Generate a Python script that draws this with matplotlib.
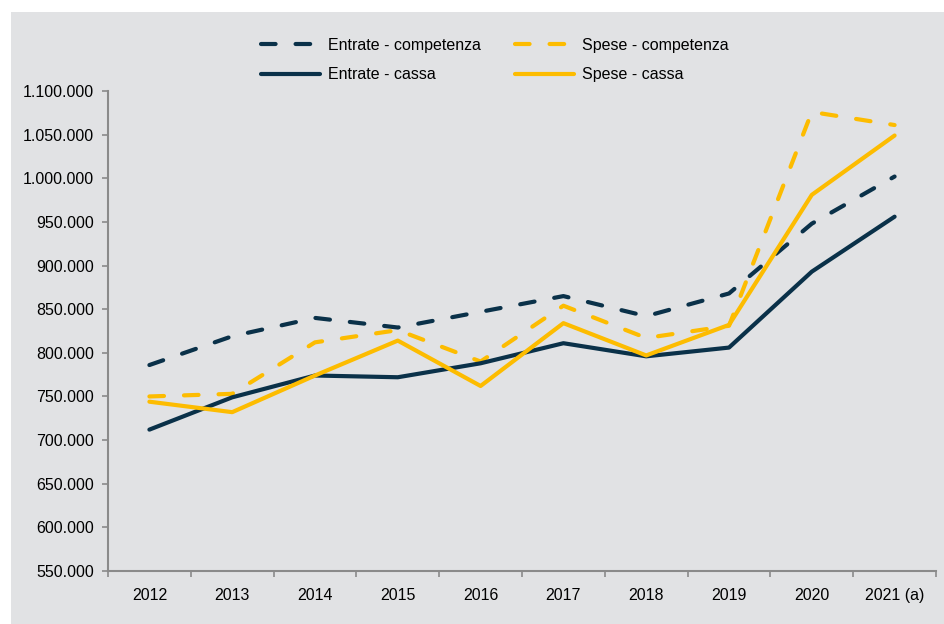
import matplotlib
matplotlib.use("Agg")
import matplotlib.pyplot as plt
from matplotlib.patches import Rectangle
from matplotlib.ticker import FuncFormatter, FixedLocator

plt.rcParams['font.family'] = ['Liberation Sans', 'DejaVu Sans']

years = ["2012", "2013", "2014", "2015", "2016", "2017", "2018", "2019", "2020", "2021 (a)"]
entrate_competenza = [786000, 819000, 840000, 829000, 847000, 865000, 842000, 868000, 948000, 1002000]
spese_competenza = [750000, 753000, 812000, 826000, 790000, 854000, 817000, 831000, 1076000, 1061000]
entrate_cassa = [712000, 749000, 774000, 772000, 788000, 811000, 796000, 806000, 893000, 956000]
spese_cassa = [744000, 732000, 774000, 814000, 762000, 834000, 797000, 832000, 981000, 1049000]

navy = '#0a3149'
yellow = '#fdbc00'
bg = '#e1e2e4'
spine_c = '#8a8a8a'

fig = plt.figure(figsize=(9.45, 6.24), dpi=100)
fig.patch.set_facecolor('white')
fig.add_artist(Rectangle((11/945, 0), 1, 1 - 12/624, transform=fig.transFigure,
                         facecolor=bg, edgecolor='none', zorder=-10))

ax = fig.add_axes([108/945, 1 - 571/624, (936 - 108)/945, (571 - 91)/624])
ax.set_facecolor('none')

x = list(range(len(years)))
lw = 3.0
dash = (3.5, 4.8)
l1, = ax.plot(x, entrate_competenza, color=navy, lw=lw, dashes=dash, dash_capstyle='round',
              label='Entrate - competenza')
l3, = ax.plot(x, spese_competenza, color=yellow, lw=lw, dashes=dash, dash_capstyle='round',
              label='Spese - competenza')
l2, = ax.plot(x, entrate_cassa, color=navy, lw=lw, solid_capstyle='round', label='Entrate - cassa')
l4, = ax.plot(x, spese_cassa, color=yellow, lw=lw, solid_capstyle='round', label='Spese - cassa')

ax.set_xlim(-0.5, len(years) - 0.5)
ax.set_ylim(550000, 1100000)
ax.set_yticks(range(550000, 1100001, 50000))
ax.yaxis.set_major_formatter(FuncFormatter(lambda v, p: f"{int(v):,}".replace(",", ".")))

ax.set_xticks(x)
ax.set_xticklabels(years)
ax.xaxis.set_minor_locator(FixedLocator([i - 0.5 for i in range(len(years) + 1)]))
ax.tick_params(axis='x', which='major', length=0, pad=12, labelsize=11.5, colors='black')
ax.tick_params(axis='x', which='minor', length=4, width=1.2, color=spine_c, direction='out')
ax.tick_params(axis='y', length=4, width=1.2, color=spine_c, pad=6, labelsize=11.5, labelcolor='black')

for s in ['top', 'right']:
    ax.spines[s].set_visible(False)
for s in ['left', 'bottom']:
    ax.spines[s].set_color(spine_c)
    ax.spines[s].set_linewidth(1.5)

leg = fig.legend(handles=[l1, l2, l3, l4], ncol=2, loc='center',
                 bbox_to_anchor=(495/945, 1 - 60/624), frameon=False,
                 fontsize=11.5, handlelength=3.7, handletextpad=0.5,
                 columnspacing=2.15, labelspacing=0.9)

fig.savefig('out.png', dpi=100, facecolor=fig.get_facecolor())
